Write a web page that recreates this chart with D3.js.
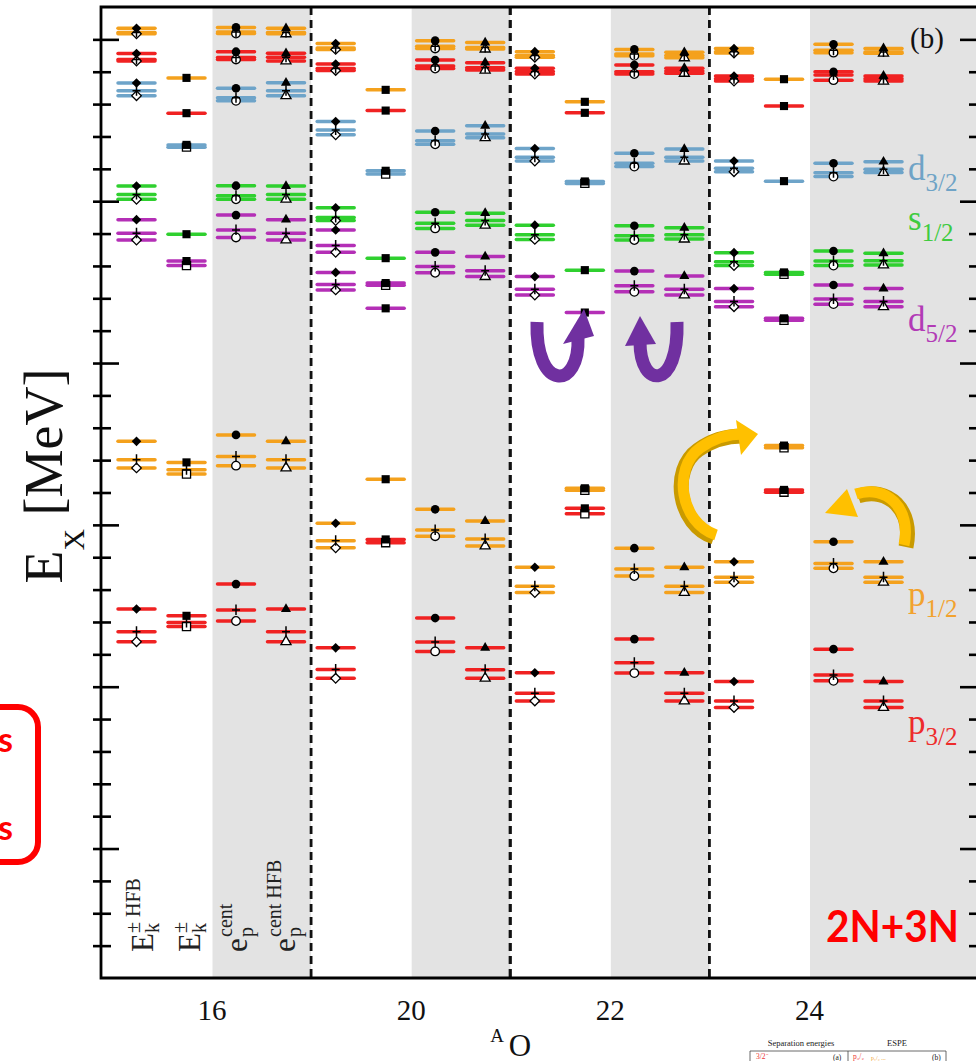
<!DOCTYPE html>
<html>
<head>
<meta charset="utf-8">
<script src="https://cdn.jsdelivr.net/npm/d3@7"></script>
<style>
  body { margin: 0; background: #fff; }
  svg { display: block; }
  .serif { font-family: "Liberation Serif", "Times New Roman", serif; }
</style>
</head>
<body>
<svg id="chart" width="976" height="1061"></svg>
<script>
// Oxygen isotopes on the x axis
const isotopes = ["16", "20", "22", "24"];
// Four ESPE definitions per isotope: Ek±HFB (diamond), Ek± (square), ep cent (circle), ep cent HFB (triangle)
const methods = ["Ek±HFB", "Ek±", "ep cent", "ep cent HFB"];

// Energies in MeV. For every isotope: one entry per method.
// Entry = [filled-marker level, "+" level, open-marker level]; Ek± lists the filled level first, the open one last.
const p12Upper = [
  [[0.34, 0.21, 0.17], [-1.19], [0.37, 0.23, 0.18], [0.34, 0.21, 0.17]],
  [[-0.13, -0.27, -0.31], [-1.56], [-0.04, -0.21, -0.28], [-0.10, -0.25, -0.30]],
  [[-0.38, -0.50, -0.55], [-1.93], [-0.31, -0.45, -0.51], [-0.40, -0.50, -0.57]],
  [[-0.28, -0.38, -0.42], [-1.23], [-0.15, -0.34, -0.41], [-0.28, -0.39, -0.43]]
];
const p32Upper = [
  [[-0.44, -0.62, -0.67], [-2.28], [-0.38, -0.56, -0.62], [-0.43, -0.55, -0.67]],
  [[-0.76, -0.90, -0.96], [-2.20], [-0.64, -0.82, -0.90], [-0.72, -0.88, -0.95]],
  [[-0.89, -0.99, -1.07], [-2.27], [-0.79, -1.00, -1.07], [-0.89, -0.98, -1.05]],
  [[-1.13, -1.22, -1.29], [-2.06], [-1.00, -1.10, -1.26], [-1.13, -1.22, -1.29]]
];
const d32 = [
  [[-1.35, -1.59, -1.74], [-3.26, -3.33], [-1.51, -1.80, -1.90], [-1.34, -1.59, -1.74]],
  [[-2.54, -2.80, -2.95], [-4.06, -4.16], [-2.83, -3.13, -3.24], [-2.67, -2.92, -3.04]],
  [[-3.37, -3.64, -3.76], [-4.39, -4.45], [-3.52, -3.83, -3.93], [-3.39, -3.64, -3.76]],
  [[-3.76, -3.98, -4.09], [-4.38], [-3.83, -4.12, -4.24], [-3.78, -4.01, -4.11]]
];
const s12 = [
  [[-4.53, -4.79, -4.94], [-6.02], [-4.52, -4.83, -4.94], [-4.53, -4.79, -4.94]],
  [[-5.20, -5.50, -5.60], [-6.76], [-5.34, -5.68, -5.84], [-5.37, -5.60, -5.74]],
  [[-5.74, -6.04, -6.18], [-7.13], [-5.76, -6.07, -6.20], [-5.82, -6.04, -6.17]],
  [[-6.59, -6.87, -6.99], [-7.20, -7.26], [-6.54, -6.85, -6.99], [-6.61, -6.84, -6.97]]
];
const d52 = [
  [[-5.57, -5.99, -6.20], [-6.85, -6.99], [-5.43, -5.89, -6.12], [-5.57, -5.99, -6.20]],
  [[-5.89, -6.37, -6.58], [-7.53, -7.60], [-6.58, -7.02, -7.21], [-6.71, -7.15, -7.33]],
  [[-7.33, -7.72, -7.90], [-8.44], [-7.16, -7.61, -7.80], [-7.31, -7.72, -7.90]],
  [[-7.70, -8.10, -8.26], [-8.62, -8.68], [-7.59, -8.02, -8.18], [-7.70, -8.10, -8.26]]
];
// second d5/2 fragment, present only for 20O
const d52Second = [
  [null, null, null, null],
  [[-7.20, -7.57, -7.74], [-8.31], null, null],
  [null, null, null, null],
  [null, null, null, null]
];
const p12 = [
  [[-12.42, -12.99, -13.24], [-13.07, -13.30, -13.43], [-12.22, -12.89, -13.17], [-12.42, -12.99, -13.24]],
  [[-14.95, -15.49, -15.71], [-13.59], [-14.52, -15.16, -15.35], [-14.88, -15.44, -15.65]],
  [[-16.31, -16.90, -17.09], [-13.87, -13.93], [-15.72, -16.36, -16.58], [-16.31, -16.90, -17.09]],
  [[-16.14, -16.62, -16.77], [-12.55, -12.62], [-15.52, -16.19, -16.34], [-16.14, -16.62, -16.77]]
];
const p32 = [
  [[-17.60, -18.30, -18.61], [-17.81, -18.02, -18.14], [-16.83, -17.63, -17.97], [-17.60, -18.30, -18.61]],
  [[-18.80, -19.47, -19.74], [-15.45, -15.55], [-17.88, -18.62, -18.91], [-18.80, -19.48, -19.74]],
  [[-19.57, -20.20, -20.44], [-14.49, -14.66], [-18.53, -19.26, -19.58], [-19.57, -20.20, -20.44]],
  [[-19.84, -20.44, -20.64], [-13.92, -13.99], [-18.84, -19.64, -19.82], [-19.84, -20.44, -20.64]]
];

// Orbital labels shown at the right edge, with the energy where each sits
const orbitalLabels = [
  { main: "d", sub: "3/2", at: -4.35, color: "#6FA3C6" },
  { main: "s", sub: "1/2", at: -5.9, color: "#3FCB3F" },
  { main: "d", sub: "5/2", at: -9.0, color: "#B23AB6" },
  { main: "p", sub: "1/2", at: -17.5, color: "#F2A22E" },
  { main: "p", sub: "3/2", at: -21.45, color: "#EE2B2B" }
];

const COLORS = {
  orange: "#F4A11D",
  red: "#F02222",
  blue: "#6EA4C9",
  green: "#2FD02F",
  magenta: "#B42FB6"
};

const series = [
  { values: p12Upper, color: COLORS.orange },
  { values: p32Upper, color: COLORS.red },
  { values: d32, color: COLORS.blue },
  { values: s12, color: COLORS.green },
  { values: d52, color: COLORS.magenta },
  { values: d52Second, color: COLORS.magenta },
  { values: p12, color: COLORS.orange },
  { values: p32, color: COLORS.red }
];

// ---------- layout ----------
const plot = { left: 101, right: 977, top: 7, bottom: 978 };
const y = d3.scaleLinear().domain([-29, 1]).range([plot.bottom, plot.top]);
const x = d3.scaleLinear().domain([0, 3]).range([211.5, 809]);
const colOffset = [-75, -25, 24.5, 74.5];
const halfLevel = 18.5;

const svg = d3.select("#chart");
svg.append("rect").attr("width", 976).attr("height", 1061).attr("fill", "#fff");

// shaded halves (central-potential definitions)
isotopes.forEach((iso, i) => {
  const x0 = x(i) + 1;
  const x1 = i < isotopes.length - 1 ? x(i + 0.5) : plot.right;
  svg.append("rect")
    .attr("x", x0).attr("y", plot.top)
    .attr("width", x1 - x0).attr("height", plot.bottom - plot.top)
    .attr("fill", "#E3E3E3");
});

// dashed separators between isotopes
[0, 1, 2].forEach(i => {
  svg.append("line")
    .attr("x1", x(i + 0.5)).attr("x2", x(i + 0.5))
    .attr("y1", plot.top).attr("y2", plot.bottom)
    .attr("stroke", "#111").attr("stroke-width", i === 1 ? 3.2 : 2.8)
    .attr("stroke-dasharray", "8,5");
});

// flatten levels
const levels = [];
series.forEach(s => {
  s.values.forEach((row, i) => {
    row.forEach((vals, c) => {
      if (!vals) return;
      vals.forEach((v, k) => {
        let kind;
        if (k === 0) kind = "filled";
        else if (vals.length === 3 && k === 1) kind = "plus";
        else kind = "open";
        levels.push({ i, c, v, kind, color: s.color });
      });
    });
  });
});

const cx = d => x(d.i) + colOffset[d.c];

svg.append("g").selectAll("line")
  .data(levels).join("line")
  .attr("x1", d => cx(d) - halfLevel)
  .attr("x2", d => cx(d) + halfLevel)
  .attr("y1", d => y(d.v)).attr("y2", d => y(d.v))
  .attr("stroke", d => d.color)
  .attr("stroke-width", 3.5)
  .attr("stroke-linecap", "round");

const symbolFor = [
  d3.symbol().type(d3.symbolSquare).size(46),   // rotated -> diamond
  d3.symbol().type(d3.symbolSquare).size(66),
  d3.symbol().type(d3.symbolCircle).size(58),
  d3.symbol().type(d3.symbolTriangle).size(44)
];
const markerTransform = d => `translate(${cx(d)},${y(d.v)})` + (d.c === 0 ? " rotate(45)" : "");

const marks = svg.append("g");
marks.selectAll("path.open")
  .data(levels.filter(d => d.kind === "open")).join("path")
  .attr("class", "open")
  .attr("d", d => symbolFor[d.c]())
  .attr("transform", markerTransform)
  .attr("fill", "#fff").attr("stroke", "#000").attr("stroke-width", 1.3);

marks.selectAll("path.plus")
  .data(levels.filter(d => d.kind === "plus")).join("path")
  .attr("class", "plus")
  .attr("d", "M-4,0H4M0,-5.5V5")
  .attr("transform", d => `translate(${cx(d)},${y(d.v)})`)
  .attr("fill", "none").attr("stroke", "#000").attr("stroke-width", 1.5);

marks.selectAll("path.filled")
  .data(levels.filter(d => d.kind === "filled")).join("path")
  .attr("class", "filled")
  .attr("d", d => symbolFor[d.c]())
  .attr("transform", markerTransform)
  .attr("fill", "#000");

// ---------- axes ----------
const minorTicks = d3.range(-28, 1);
const majorTicks = minorTicks.filter(v => v % 5 === 0);

function tickAxis(gen, pos, size, values) {
  svg.append("g")
    .attr("transform", `translate(${pos},0)`)
    .call(gen(y).tickValues(values).tickSize(size).tickFormat(""))
    .call(g => g.select(".domain").remove())
    .call(g => g.selectAll(".tick line").attr("stroke", "#000").attr("stroke-width", 2.6));
}
tickAxis(d3.axisRight, 93, 18, minorTicks.filter(v => v % 5 !== 0));
tickAxis(d3.axisRight, 93, 26, majorTicks);
tickAxis(d3.axisLeft, plot.right, 8, minorTicks.filter(v => v % 5 !== 0));
tickAxis(d3.axisLeft, plot.right, 17, majorTicks);

// frame
svg.append("path")
  .attr("d", `M${plot.right},${plot.top}H${plot.left}V${plot.bottom}H${plot.right}`)
  .attr("fill", "none").attr("stroke", "#000").attr("stroke-width", 2.8);

// x axis labels
svg.append("g")
  .attr("transform", `translate(0,${plot.bottom})`)
  .call(d3.axisBottom(x).tickValues(d3.range(isotopes.length)).tickFormat(i => isotopes[i]).tickSize(0).tickPadding(21))
  .call(g => g.select(".domain").remove())
  .call(g => g.selectAll("text").attr("class", "serif").attr("font-size", 29).attr("fill", "#111"));

svg.append("text").attr("class", "serif").attr("x", 497).attr("y", 1042)
  .attr("text-anchor", "middle").attr("font-size", 19).attr("fill", "#111").text("A");
svg.append("text").attr("class", "serif").attr("x", 520).attr("y", 1056)
  .attr("text-anchor", "middle").attr("font-size", 31).attr("fill", "#111").text("O");

// y axis title
const yTitle = svg.append("text").attr("class", "serif")
  .attr("transform", "translate(62,476) rotate(-90)")
  .attr("text-anchor", "middle").attr("fill", "#111");
yTitle.append("tspan").attr("font-size", 54).text("E");
yTitle.append("tspan").attr("font-size", 30).attr("dy", 22).text("X");
yTitle.append("tspan").attr("font-size", 54).attr("dy", -22).text(" [MeV]");

// method labels, written vertically in the first isotope
const methodLabels = [
  { base: "E", sub: "k", sup: "± HFB", px: 153, supShift: -13 },
  { base: "E", sub: "k", sup: "±", px: 200, supShift: -13 },
  { base: "e", sub: "p", sup: "cent", px: 247, supShift: -15 },
  { base: "e", sub: "p", sup: "cent HFB", px: 295, supShift: -14 }
];
methodLabels.forEach(m => {
  const g = svg.append("g").attr("transform", `translate(${m.px},952) rotate(-90)`)
    .attr("class", "serif").attr("fill", "#222");
  g.append("text").attr("x", 0).attr("y", 0).attr("font-size", 31).text(m.base);
  const adv = m.base === "E" ? 19 : 15;
  g.append("text").attr("x", adv).attr("y", 6).attr("font-size", 20).text(m.sub);
  g.append("text").attr("x", adv).attr("y", m.supShift).attr("font-size", 20).text(m.sup);
});

// panel tag
svg.append("text").attr("class", "serif").attr("x", 910).attr("y", 48)
  .attr("font-size", 29).attr("fill", "#111").text("(b)");

// orbital names
orbitalLabels.forEach(o => {
  const t = svg.append("text").attr("class", "serif")
    .attr("x", 908).attr("y", y(o.at)).attr("fill", o.color);
  t.append("tspan").attr("font-size", 35).text(o.main);
  t.append("tspan").attr("font-size", 25).attr("dy", 11).text(o.sub);
});

// interaction tag
svg.append("text")
  .attr("x", 826).attr("y", 942)
  .attr("font-family", "Lato, 'Open Sans', sans-serif").attr("font-weight", 700)
  .attr("font-size", 44).attr("fill", "#FF0000")
  .attr("textLength", 133).attr("lengthAdjust", "spacingAndGlyphs")
  .text("2N+3N");

// callout box at the left margin
svg.append("rect")
  .attr("x", -30).attr("y", 707).attr("width", 68).attr("height", 155)
  .attr("rx", 20).attr("fill", "none").attr("stroke", "#FF0000").attr("stroke-width", 6);
[752, 840].forEach(yy => {
  svg.append("text").attr("x", 13).attr("y", yy).attr("text-anchor", "end")
    .attr("font-family", "Lato, 'Open Sans', sans-serif").attr("font-weight", 700)
    .attr("font-size", 34).attr("fill", "#FF0000").text("s");
});

// purple U-turn arrows (d5/2 region)
const purple = "#7030A0";
svg.append("path").attr("d", "M537,322 C535,392 580,390 578,338")
  .attr("fill", "none").attr("stroke", purple).attr("stroke-width", 13);
svg.append("path").attr("d", "M563,344 L594,336 L584,309 Z").attr("fill", purple);
svg.append("path").attr("d", "M677,322 C679,390 640,390 640,342")
  .attr("fill", "none").attr("stroke", purple).attr("stroke-width", 13);
svg.append("path").attr("d", "M625,346 L656,344 L640,316 Z").attr("fill", purple);

// gold curved arrows (p1/2 region)
const gold = "#FFC000", goldDark = "#C99A00";
svg.append("path").attr("d", "M714,537 C678,525 670,470 698,450 C712,440 728,436 742,436")
  .attr("fill", "none").attr("stroke", goldDark).attr("stroke-width", 15);
svg.append("path").attr("d", "M714,537 C678,525 670,470 698,450 C712,440 728,436 742,436")
  .attr("fill", "none").attr("stroke", gold).attr("stroke-width", 11)
  .attr("transform", "translate(2,-2)");
svg.append("path").attr("d", "M736,420 L741,455 L758,434 Z").attr("fill", gold);

svg.append("path").attr("d", "M906,547 C914,510 888,486 858,496")
  .attr("fill", "none").attr("stroke", goldDark).attr("stroke-width", 15);
svg.append("path").attr("d", "M906,547 C914,510 888,486 858,496")
  .attr("fill", "none").attr("stroke", gold).attr("stroke-width", 11)
  .attr("transform", "translate(-2,-2)");
svg.append("path").attr("d", "M825,513 L847,489 L858,517 Z").attr("fill", gold);

// fragment of the neighbouring figure header
const inset = svg.append("g").attr("class", "serif").attr("font-size", 8.5).attr("fill", "#222");
inset.append("text").attr("x", 801).attr("y", 1046).attr("text-anchor", "middle").text("Separation energies");
inset.append("text").attr("x", 897).attr("y", 1046).attr("text-anchor", "middle").text("ESPE");
inset.append("path").attr("d", "M750,1062V1051H946V1062M848,1051V1062")
  .attr("fill", "none").attr("stroke", "#444").attr("stroke-width", 0.8);
inset.append("text").attr("x", 756).attr("y", 1059).attr("font-size", 7.5).attr("fill", "#E33").text("3/2⁻");
inset.append("text").attr("x", 833).attr("y", 1060).attr("font-size", 7.5).text("(a)");
inset.append("text").attr("x", 853).attr("y", 1059).attr("font-size", 7.5).attr("fill", "#E33").text("p₃/₂");
inset.append("text").attr("x", 871).attr("y", 1060).attr("font-size", 6).attr("fill", "#F2A22E").text("p₁/₂ ...");
inset.append("text").attr("x", 932).attr("y", 1060).attr("font-size", 7.5).text("(b)");
</script>
</body>
</html>
